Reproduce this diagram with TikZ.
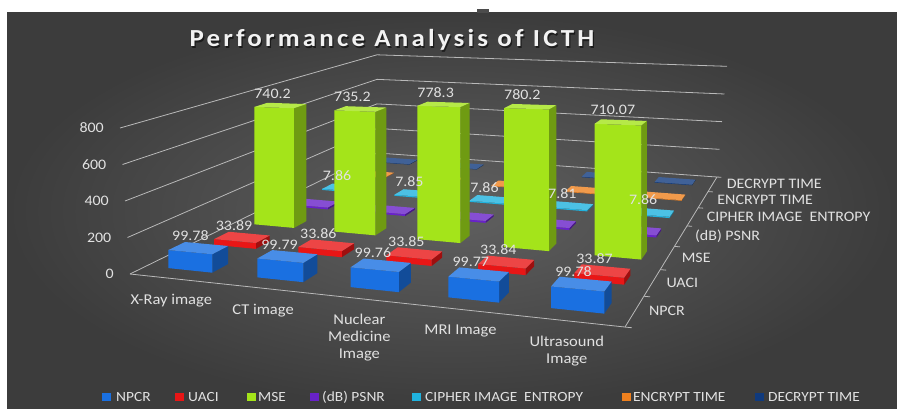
\documentclass[tikz,border=0pt]{standalone}
\usepackage{fontspec}
\setmainfont{Carlito}[FakeStretch=1.1]
\newfontfamily\titlefont{Carlito}[FakeStretch=1.1,LetterSpace=13]
\definecolor{bgin}{RGB}{96,96,96}
\definecolor{bgout}{RGB}{60,60,60}
\definecolor{gridc}{RGB}{185,185,185}
\definecolor{txtc}{RGB}{225,225,225}
\definecolor{cNPCR}{RGB}{26,112,225}
\definecolor{cUACI}{RGB}{232,22,22}
\definecolor{cMSE}{RGB}{164,228,26}
\definecolor{cPSNR}{RGB}{104,34,200}
\definecolor{cCIP}{RGB}{32,178,222}
\definecolor{cENC}{RGB}{238,128,30}
\definecolor{cDEC}{RGB}{16,58,125}
% projection: u = category axis (0..1), w = series depth (0..1), h = value
\newcommand\pj[5]{%
  \pgfmathsetmacro\pjD{1-0.1154*(#2)+0.4871*(#3)}%
  \pgfmathsetmacro\pjX{(422.9*(#2)+430.6*(#3)+130)/\pjD+(#5)}%
  \pgfmathsetmacro\pjY{(15.3*(#2)-46.5*(#3)+274-0.1825*(#4)*(1+0.12*(#2)-0.08*(#2)*(#3)))/\pjD}%
  \coordinate (#1) at (\pjX,-\pjY);%
}
\newcommand\drawbar[4]{%
  \pgfmathsetmacro\uA{(#1+0.5)/5-0.05}%
  \pgfmathsetmacro\uB{(#1+0.5)/5+0.05}%
  \pgfmathsetmacro\wA{(#2+0.5)/7-0.025}%
  \pgfmathsetmacro\wB{(#2+0.5)/7+0.025}%
  \pj{ba}{\uA}{\wA}{0}{0}\pj{bb}{\uB}{\wA}{0}{0}\pj{bc}{\uB}{\wB}{0}{0}%
  \pj{be}{\uA}{\wA}{#3}{0}\pj{bf}{\uB}{\wA}{#3}{0}\pj{bg}{\uB}{\wB}{#3}{0}\pj{bh}{\uA}{\wB}{#3}{0}%
  \fill[#4!68!black] (bb)--(bc)--(bg)--(bf)--cycle;
  \fill[#4] (ba)--(bb)--(bf)--(be)--cycle;
  \fill[#4!80!white] (be)--(bf)--(bg)--(bh)--cycle;
}
\newcommand\dlabel[4]{%
  \pj{lp}{(#1+0.5)/5}{(#2+0.5)/7}{#3}{0}%
  \node[dlbl] (dl-#1-#2) at ([shift={(-8,12)}]lp) {#4};%
}
\tikzset{
  gridln/.style={draw=gridc, line width=0.8pt},
  dlbl/.style={text=txtc, font=\fontsize{14.5}{16}\selectfont, inner sep=0},
  axlbl/.style={text=txtc, font=\fontsize{14.5}{16}\selectfont, inner sep=0, anchor=east},
  catlbl/.style={text=txtc, font=\fontsize{15}{17}\selectfont, inner sep=0, anchor=north, align=center},
  serlbl/.style={text=txtc, font=\fontsize{14.5}{16}\selectfont, inner sep=0, anchor=west},
  leglbl/.style={text=txtc, font=\fontsize{14}{16}\selectfont, inner sep=0, anchor=west},
  legmark/.style={minimum width=9pt, minimum height=8pt, inner sep=0, anchor=west},
  ttl/.style={font=\titlefont\bfseries\fontsize{24.5}{28}\selectfont, inner sep=0},
}
\begin{document}
\begin{tikzpicture}[x=1pt,y=1pt]
\useasboundingbox (0,0) rectangle (897,-409);
\fill[white] (0,0) rectangle (897,-409);
\shade[inner color=bgin, outer color=bgout] (7,-13) rectangle (897,-409);
\fill[black!70] (477,-9) rectangle (489,-13);
% walls gridlines and value axis labels
\foreach \v in {0,200,...,800}{
  \pj{gl}{0}{0}{\v}{-\v/80}
  \pj{gm}{0}{1}{\v}{0}
  \pj{gr}{1}{1}{\v}{\v/80}
  \draw[gridln] (gl)--(gm)--(gr);
  \node[axlbl] (ax\v) at ([xshift=-16]gl) {\v};
}
% floor front edge and depth axis
\pj{FL}{0}{0}{0}{0}\pj{FR}{1}{0}{0}{0}\pj{BR}{1}{1}{0}{0}
\draw[gridln] (FL)--(FR)--(BR);
\foreach \k in {0,...,7}{
  \pj{ta}{1}{\k/7}{0}{0}\pj{tb}{1.012}{\k/7}{0}{0}
  \draw[gridln] (ta)--(tb);
}
% bars, back to front
\foreach \i in {0,...,4}{\drawbar{\i}{6}{4}{cDEC}}
\foreach \i in {0,...,4}{\drawbar{\i}{5}{4}{cENC}}
\drawbar{0}{4}{7.86}{cCIP}\drawbar{1}{4}{7.85}{cCIP}\drawbar{2}{4}{7.86}{cCIP}\drawbar{3}{4}{7.81}{cCIP}\drawbar{4}{4}{7.86}{cCIP}
\foreach \i in {0,...,4}{\drawbar{\i}{3}{12}{cPSNR}}
\drawbar{0}{2}{740.2}{cMSE}\drawbar{1}{2}{735.2}{cMSE}\drawbar{2}{2}{778.3}{cMSE}\drawbar{3}{2}{780.2}{cMSE}\drawbar{4}{2}{710.07}{cMSE}
\drawbar{0}{1}{33.89}{cUACI}\drawbar{1}{1}{33.86}{cUACI}\drawbar{2}{1}{33.85}{cUACI}\drawbar{3}{1}{33.84}{cUACI}\drawbar{4}{1}{33.87}{cUACI}
\drawbar{0}{0}{99.78}{cNPCR}\drawbar{1}{0}{99.79}{cNPCR}\drawbar{2}{0}{99.76}{cNPCR}\drawbar{3}{0}{99.77}{cNPCR}\drawbar{4}{0}{99.78}{cNPCR}
% data labels
\dlabel{0}{4}{7.86}{7.86}\dlabel{1}{4}{7.85}{7.85}\dlabel{2}{4}{7.86}{7.86}\dlabel{3}{4}{7.81}{7.81}\dlabel{4}{4}{7.86}{7.86}
\dlabel{0}{2}{740.2}{740.2}\dlabel{1}{2}{735.2}{735.2}\dlabel{2}{2}{778.3}{778.3}\dlabel{3}{2}{780.2}{780.2}\dlabel{4}{2}{710.07}{710.07}
\dlabel{0}{1}{33.89}{33.89}\dlabel{1}{1}{33.86}{33.86}\dlabel{2}{1}{33.85}{33.85}\dlabel{3}{1}{33.84}{33.84}\dlabel{4}{1}{33.87}{33.87}
\dlabel{0}{0}{99.78}{99.78}\dlabel{1}{0}{99.79}{99.79}\dlabel{2}{0}{99.76}{99.76}\dlabel{3}{0}{99.77}{99.77}\dlabel{4}{0}{99.78}{99.78}
% category labels
\pj{c0}{0.1}{0}{0}{0}\node[catlbl] (cat0) at ([shift={(-3,-15)}]c0) {X-Ray image};
\pj{c1}{0.3}{0}{0}{0}\node[catlbl] (cat1) at ([shift={(-3,-15)}]c1) {CT image};
\pj{c2}{0.5}{0}{0}{0}\node[catlbl] (cat2) at ([shift={(-3,-15)}]c2) {Nuclear\\Medicine\\Image};
\pj{c3}{0.7}{0}{0}{0}\node[catlbl] (cat3) at ([shift={(-3,-15)}]c3) {MRI Image};
\pj{c4}{0.9}{0}{0}{0}\node[catlbl] (cat4) at ([shift={(-3,-15)}]c4) {Ultrasound\\Image};
% series labels
\pj{s0}{1}{0.5/7}{0}{0}\node[serlbl] (ser0) at ([xshift=14]s0) {NPCR};
\pj{s1}{1}{1.5/7}{0}{0}\node[serlbl] (ser1) at ([xshift=14]s1) {UACI};
\pj{s2}{1}{2.5/7}{0}{0}\node[serlbl] (ser2) at ([xshift=14]s2) {MSE};
\pj{s3}{1}{3.5/7}{0}{0}\node[serlbl] (ser3) at ([xshift=14]s3) {(dB) PSNR};
\pj{s4}{1}{4.5/7}{0}{0}\node[serlbl] (ser4) at ([xshift=14]s4) {CIPHER IMAGE\ \ ENTROPY};
\pj{s5}{1}{5.5/7}{0}{0}\node[serlbl] (ser5) at ([xshift=14]s5) {ENCRYPT TIME};
\pj{s6}{1}{6.5/7}{0}{0}\node[serlbl] (ser6) at ([xshift=14]s6) {DECRYPT TIME};
% legend
\node[legmark, fill=cNPCR] (lm0) at (102,-397) {};\node[leglbl] (lt0) at (116,-397) {NPCR};
\node[legmark, fill=cUACI] (lm1) at (175,-397) {};\node[leglbl] (lt1) at (188,-397) {UACI};
\node[legmark, fill=cMSE]  (lm2) at (247,-397) {};\node[leglbl] (lt2) at (258,-397) {MSE};
\node[legmark, fill=cPSNR] (lm3) at (310,-397) {};\node[leglbl] (lt3) at (322,-397) {(dB) PSNR};
\node[legmark, fill=cCIP]  (lm4) at (412,-397) {};\node[leglbl] (lt4) at (425,-397) {CIPHER IMAGE\ \ ENTROPY};
\node[legmark, fill=cENC]  (lm5) at (622,-397) {};\node[leglbl] (lt5) at (633,-397) {ENCRYPT TIME};
\node[legmark, fill=cDEC]  (lm6) at (755,-397) {};\node[leglbl] (lt6) at (768,-397) {DECRYPT TIME};
% title
\node[ttl, text=black, opacity=0.55] (titlesh) at (393.2,-41.6) {Performance Analysis of ICTH};
\node[ttl, text=white!95!black] (title) at (392,-40) {Performance Analysis of ICTH};
\end{tikzpicture}
\end{document}
